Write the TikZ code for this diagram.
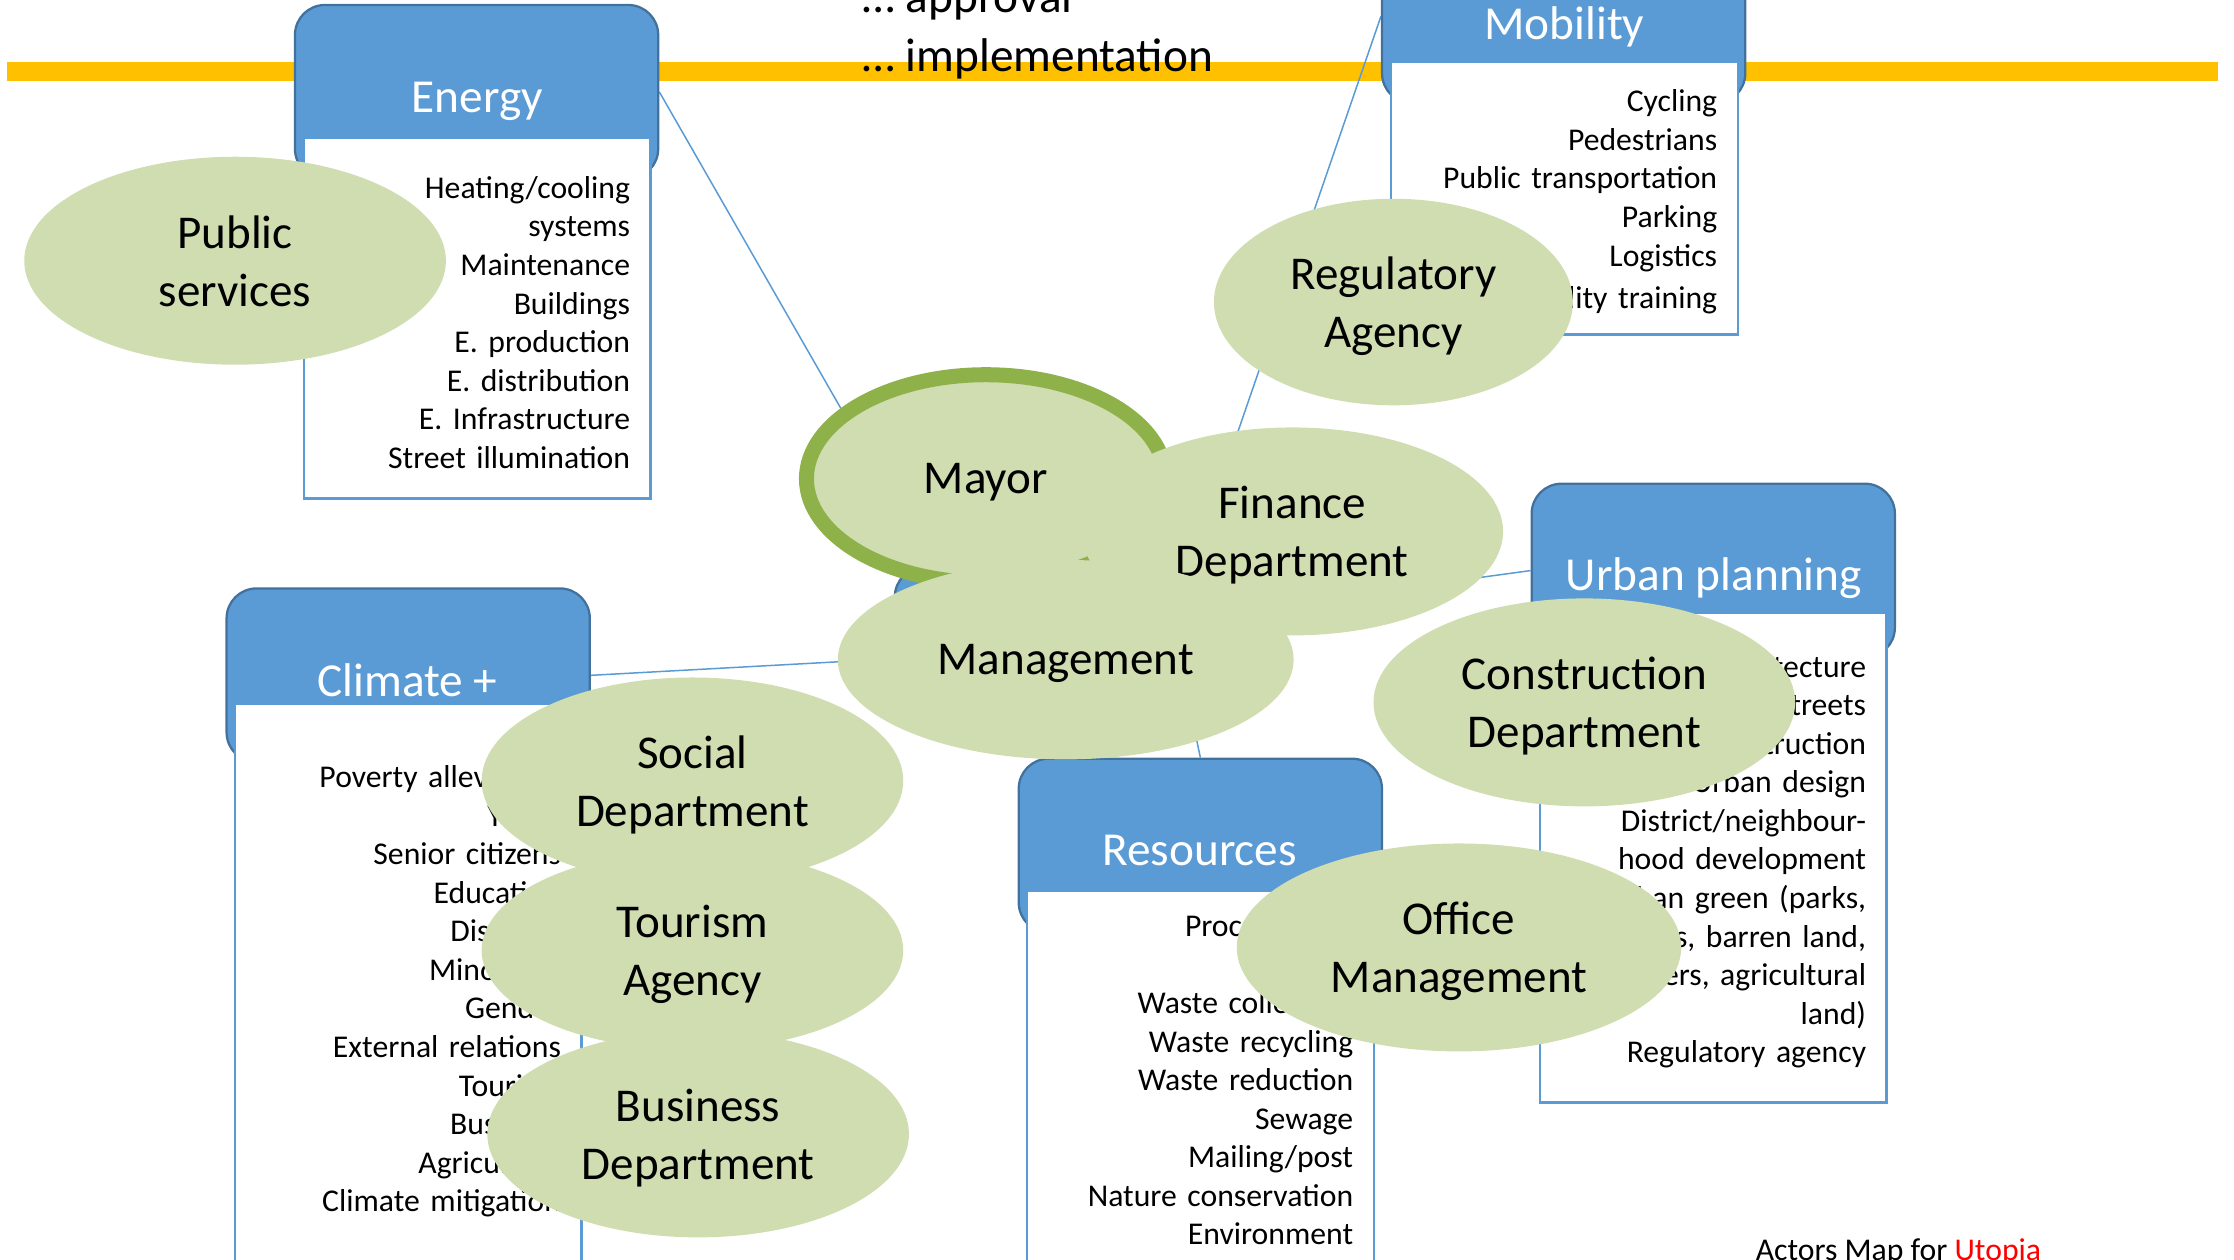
\documentclass[tikz,border=0pt]{standalone}
\usepackage{fontspec}
\setmainfont{Carlito}
\usepackage{xcolor}
\usepackage{tikz}
\usetikzlibrary{shapes.geometric, backgrounds}
\definecolor{hdblue}{RGB}{91,155,213}
\definecolor{hdedge}{RGB}{65,113,156}
\definecolor{leaf}{RGB}{207,221,177}
\definecolor{leafdark}{RGB}{142,178,73}
\definecolor{bargold}{RGB}{255,192,0}
\tikzset{
link/.style={draw=hdblue, line width=0.6pt},
cardhead/.style={%
    rectangle,
    rounded corners=0.42cm,
    minimum width=5.1cm,
    minimum height=2.44cm,
    fill=hdblue,
    draw=hdedge,
    line width=0.9pt
},
cardtitle/.style={%
    text=white,
    text depth=0pt,
    font=\fontsize{18.9}{23.2}\selectfont
},
cardbody/.style={%
    rectangle,
    minimum width=4.87cm,
    text width=4.29cm,
    inner xsep=0.29cm,
    inner ysep=0pt,
    fill=white,
    draw=hdblue,
    line width=1pt,
    align=right,
    execute at begin node={\rule{0pt}{12pt}},
    % Font
    font=\fontsize{12.66}{15.4}\selectfont
},
actor/.style={%
    ellipse,
    inner sep=0pt,
    minimum width=5.92cm,
    minimum height=2.92cm,
    fill=leaf,
    align=center,
    text depth=0pt,
    font=\fontsize{18.8}{23.2}\selectfont
},
note/.style={%
    text=black,
    inner sep=0pt,
    font=\fontsize{18.9}{23.2}\selectfont
},
}

\begin{document}
\begin{tikzpicture}[x=0.02cm, y=-0.02cm, chief/.style={actor, draw=leafdark, line width=6pt}]
	\useasboundingbox (0,0) rectangle (1568,884);

	\node[cardhead, minimum width=4.68cm, minimum height=2.08cm] at (745,450) (hub) {};

	\node[cardhead] at (334.5,64.5) (energyhead) {};
	\node[cardbody, minimum height=5.06cm] at (335,223.5) (energybody) {Heating/cooling\\systems\\Maintenance\\Buildings\\E. production\\E. distribution\\E. Infrastructure\\Street illumination};
	\node[cardtitle] at (335,68) (energytitle) {Energy};

	\node[cardhead] at (1097.5,11.5) (mobilityhead) {};
	\node[cardbody, minimum height=3.83cm] at (1098,139) (mobilitybody) {Cycling\\Pedestrians\\Public transportation\\Parking\\Logistics\\[1.7pt]Mobility training};
	\node[cardtitle] at (1098,16) (mobilitytitle) {Mobility};

	\node[cardhead] at (1202.5,400.5) (urbanhead) {};
	\node[cardbody, minimum height=6.88cm] at (1202.5,602) (urbanbody) {Architecture\\Streets\\Construction\\Urban design\\District/neighbour-\\hood development\\Urban green (parks,\\forests, barren land,\\rivers, agricultural\\land)\\Regulatory agency};
	\node[cardtitle] at (1203,403) (urbantitle) {Urban planning};

	\node[cardhead] at (286.5,474) (climatehead) {};
	\node[cardbody, minimum height=7.96cm] at (286.5,693) (climatebody) {Poverty alleviation\\Youth\\Senior citizens\\Education\\Disabled\\Minorities\\Gender\\External relations\\Tourism\\Business\\Agriculture\\Climate mitigation};
	\node[cardtitle] at (286,477) (climatetitle) {Climate +};

	\node[cardhead] at (842.5,593.5) (resourceshead) {};
	\node[cardbody, minimum height=5.2cm] at (842.5,755) (resourcesbody) {Procurement\\[15.4pt]Waste collection\\Waste recycling\\Waste reduction\\Sewage\\Mailing/post\\Nature conservation\\Environment};
	\node[cardtitle] at (842,597) (resourcestitle) {Resources};

	\node[actor] at (165,183) (public) {Public\\services};
	\node[actor, minimum width=5.04cm, minimum height=2.9cm] at (978,212) (regulatory) {Regulatory\\Agency};
	\node[chief, minimum width=5.04cm] at (692,336) (mayor) {Mayor};
	\node[actor] at (907,373) (finance) {Finance\\Department};
	\node[actor, minimum width=6.4cm, minimum height=2.8cm] at (748,463) (management) {Management};
	\node[actor] at (1112,493) (construction) {Construction\\Department};
	\node[actor, minimum height=2.9cm] at (486,548) (social) {Social\\Department};
	\node[actor, minimum height=2.8cm] at (486,667) (tourism) {Tourism\\Agency};
	\node[actor, minimum height=2.9cm] at (490,796) (business) {Business\\Department};
	\node[actor, minimum width=6.24cm] at (1024,665) (office) {Office\\Management};

	\node[note, anchor=base west] at (605,9) (approval) {… approval};
	\node[note, anchor=base west] at (605,50) (implementation) {… implementation};
	\node[note, font=\fontsize{12.66}{15.4}\selectfont, anchor=base west] at (1232,884.5) (caption) {Actors Map for \textcolor{red}{Utopia}};

	\begin{scope}[on background layer]
	\fill[bargold] (5,43.3) rectangle (1557,56.9);
	\path (energyhead.east) edge[link] (hub.150);
	\path (mobilityhead.west) edge[link] (hub.30);
	\path (climatehead.east) edge[link] (hub.186);
	\path (urbanhead.west) edge[link] (hub.10);
	\path (resourceshead.north) edge[link] (hub.-30);
	\end{scope}
\end{tikzpicture}
\end{document}
